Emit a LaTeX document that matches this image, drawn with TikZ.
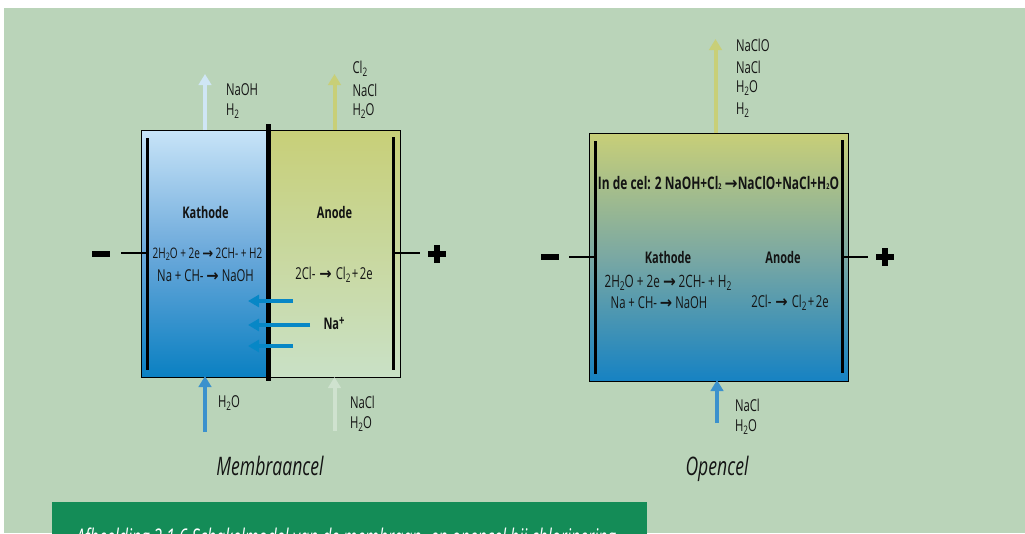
\documentclass[tikz,border=0pt]{standalone}
\usepackage{fontspec}
\usetikzlibrary{arrows.meta}
\setmainfont[FakeStretch=0.69]{Open Sans}
\newfontfamily\arrfont{DejaVu Sans}[FakeStretch=0.9]
\newcommand{\arrw}{{\arrfont\bfseries →}}
\newcommand{\lowd}[1]{\raisebox{-0.3ex}{\scalebox{0.72}{#1}}}
\definecolor{panel}{HTML}{BAD4B9}
\definecolor{boxgreen}{HTML}{148C57}
\definecolor{ylw}{HTML}{C8CF78}
\definecolor{pale}{HTML}{CFE6F5}
\definecolor{palegr}{HTML}{CFE2CF}
\definecolor{midblue}{HTML}{3B91CD}
\definecolor{naarrow}{HTML}{0787C6}
\definecolor{kathtop}{HTML}{C8E4F8}
\definecolor{kathmid}{HTML}{6AA8DA}
\definecolor{kathbot}{HTML}{0A80C2}
\definecolor{anodbot}{HTML}{C9E1C6}
\definecolor{opentop}{HTML}{C8CF78}
\definecolor{openmid}{HTML}{7AA8A3}
\definecolor{openbot}{HTML}{1682C3}
\tikzset{
  x=1pt,y=-1pt,
  flow/.style={line width=4pt,-{Triangle[width=12.5pt,length=11pt]}},
  ionflow/.style={line width=3.6pt,naarrow,-{Triangle[width=12pt,length=11pt]}},
  electrode/.style={line width=3pt,black},
  wire/.style={line width=2pt,black},
  cellpart/.style={draw=black,line width=1pt,minimum width=#1,inner sep=0,outer sep=0,minimum height=247pt},
  txt/.style={inner sep=0,outer sep=0,font=\fontsize{16.4}{17}\selectfont,text=black!92},
  lft/.style={txt,anchor=west},
  rxn/.style={txt,font=\fontsize{16.4}{17}\selectfont},
  rxnb/.style={txt,font=\fontsize{16}{17}\selectfont\bfseries},
  ttl/.style={txt,anchor=base,font=\fontsize{25.5}{26}\selectfont\itshape},
  pole/.style={fill=black,inner sep=0,outer sep=0}
}
\begin{document}
\begin{tikzpicture}
\useasboundingbox (0,0) rectangle (1025,533);
\fill[white] (0,0) rectangle (1025,533);
\fill[panel] (4,8) rectangle (1025,533);
% caption box
\begin{scope}
\clip (0,0) rectangle (1025,533);
\node[fill=boxgreen,anchor=north west,minimum width=595pt,minimum height=40pt,inner sep=0] (capbox) at (52,502) {};
\node[txt,anchor=base west,text=white,font=\fontsize{23}{24}\selectfont\itshape] (captxt) at (76,545) {Afbeelding 2.1.6 Schakelmodel van de membraan- en opencel bij chlorinering};
\end{scope}
% membrane cell
\node[cellpart=127pt,anchor=north west,top color=kathtop,bottom color=kathbot,middle color=kathmid] (kath) at (141,130) {};
\node[cellpart=132pt,anchor=north west,top color=ylw,bottom color=anodbot] (anod) at (268,130) {};
% membrane
\coordinate (memt) at (268.5,124);
\coordinate (memb) at (268.5,381);
\draw[line width=5pt,black] (memt) -- (memb);
% electrodes
\coordinate (e1t) at (147,138); \coordinate (e1b) at (147,370);
\coordinate (e2t) at (393,137); \coordinate (e2b) at (393,370);
\draw[electrode] (e1t) -- (e1b);
\draw[electrode] (e2t) -- (e2b);
\coordinate (w1a) at (121,253); \coordinate (w1b) at (147,253);
\coordinate (w2a) at (393,253); \coordinate (w2b) at (420,253);
\draw[wire] (w1a) -- (w1b);
\draw[wire] (w2a) -- (w2b);
\node[pole,minimum width=18pt,minimum height=6pt] (minus1) at (101,254) {};
\node[pole,minimum width=18pt,minimum height=5.5pt] (plus1h) at (437,254) {};
\node[pole,minimum width=5.5pt,minimum height=18pt] (plus1v) at (437,254) {};
% arrows membrane
\coordinate (a1s) at (205,130); \coordinate (a1e) at (205,74);
\draw[flow,pale] (a1s) -- (a1e);
\coordinate (a2s) at (334.5,130); \coordinate (a2e) at (334.5,74);
\draw[flow,ylw] (a2s) -- (a2e);
\coordinate (a3s) at (205,432); \coordinate (a3e) at (205,376);
\draw[flow,midblue] (a3s) -- (a3e);
\coordinate (a4s) at (334.5,431); \coordinate (a4e) at (334.5,377);
\draw[flow,palegr] (a4s) -- (a4e);
\coordinate (n1s) at (293,301); \coordinate (n1e) at (248,301);
\coordinate (n2s) at (310,325); \coordinate (n2e) at (248,325);
\coordinate (n3s) at (293,346); \coordinate (n3e) at (248,346);
\draw[ionflow] (n1s) -- (n1e);
\draw[ionflow] (n2s) -- (n2e);
\draw[ionflow] (n3s) -- (n3e);
% labels membrane
\node[lft] (t1) at (226,89.5) {NaOH};
\node[lft] (t2) at (226,111) {H\lowd{2}};
\node[lft] (t3) at (352.5,69) {Cl\lowd{2}};
\node[lft] (t4) at (352.5,90) {NaCl};
\node[lft] (t5) at (352.5,111) {H\lowd{2}O};
\node[rxnb] (t6) at (205.5,212.5) {Kathode};
\node[rxnb] (t7) at (334.5,212.5) {Anode};
\node[rxn,font=\fontsize{14.5}{15}\selectfont] (t8) at (207.5,254) {2H\lowd{2}O + 2e\,\arrw\,2CH- + H2};
\node[rxn] (t9) at (205.5,276) {Na + CH- \arrw\ NaOH};
\node[rxn] (t10) at (334,275) {2Cl-\hspace{4pt}\arrw\hspace{4pt}Cl\lowd{2}\hspace{1.5pt}+\hspace{1.5pt}2e};
\node[rxnb] (t11) at (334,323.5) {Na\raisebox{0.55ex}{\scalebox{0.85}{+}}};
\node[lft] (t12) at (218,403) {H\lowd{2}O};
\node[lft] (t13) at (350,402.5) {NaCl};
\node[lft] (t14) at (350,424) {H\lowd{2}O};
\node[ttl] (t15) at (270,475.5) {Membraancel};
% open cell
\node[draw=black,line width=1pt,anchor=north west,minimum width=259pt,minimum height=248pt,inner sep=0,outer sep=0,top color=opentop,bottom color=openbot,middle color=openmid] (open) at (589,133) {};
\coordinate (e3t) at (595,141); \coordinate (e3b) at (595,374);
\coordinate (e4t) at (842,140); \coordinate (e4b) at (842,373);
\draw[electrode] (e3t) -- (e3b);
\draw[electrode] (e4t) -- (e4b);
\coordinate (w3a) at (569,257); \coordinate (w3b) at (595,257);
\coordinate (w4a) at (842,257); \coordinate (w4b) at (868,257);
\draw[wire] (w3a) -- (w3b);
\draw[wire] (w4a) -- (w4b);
\node[pole,minimum width=18pt,minimum height=6pt] (minus2) at (549.5,257) {};
\node[pole,minimum width=18pt,minimum height=5.5pt] (plus2h) at (885,257) {};
\node[pole,minimum width=5.5pt,minimum height=18pt] (plus2v) at (885,257) {};
\coordinate (b1s) at (715.5,133); \coordinate (b1e) at (715.5,39);
\draw[flow,ylw] (b1s) -- (b1e);
\coordinate (b2s) at (717,423); \coordinate (b2e) at (717,380);
\draw[flow,midblue] (b2s) -- (b2e);
\node[lft] (u1) at (736,45) {NaClO};
\node[lft] (u2) at (736,67) {NaCl};
\node[lft] (u3) at (736,88) {H\lowd{2}O};
\node[lft] (u4) at (736,110) {H\lowd{2}};
\node[rxnb,font=\fontsize{17.3}{18}\selectfont\bfseries] (u5) at (718.5,183) {In de cel: 2 NaOH+Cl{\footnotesize 2} \arrw NaClO+NaCl+H{\footnotesize 2}O};
\node[rxnb] (u6) at (668,257.5) {Kathode};
\node[rxnb] (u7) at (783,257.5) {Anode};
\node[rxn,font=\fontsize{17}{18}\selectfont] (u8) at (668,282.5) {2H\lowd{2}O + 2e \arrw\,2CH- + H\lowd{2}};
\node[rxn] (u9) at (659,303) {Na + CH- \arrw\ NaOH};
\node[rxn] (u10) at (790,303) {2Cl-\hspace{4pt}\arrw\hspace{4pt}Cl\lowd{2}\hspace{1.5pt}+\hspace{1.5pt}2e};
\node[lft] (u11) at (735,405.5) {NaCl};
\node[lft] (u12) at (735,427) {H\lowd{2}O};
\node[ttl] (u13) at (717,475.5) {Opencel};
\end{tikzpicture}
\end{document}
